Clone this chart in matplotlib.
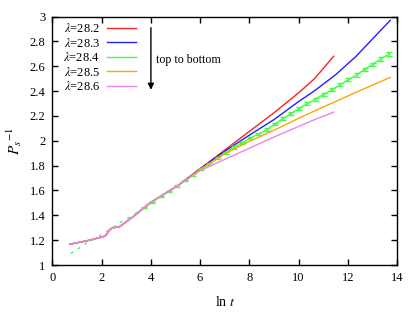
import numpy as np
import matplotlib
matplotlib.use('Agg')
import matplotlib.pyplot as plt

plt.rcParams['font.family'] = ['Liberation Serif', 'DejaVu Serif']
plt.rcParams['mathtext.fontset'] = 'stix'
plt.rcParams['font.size'] = 9

# shared early part of the curves (ln t, 1/P_s)
early_x = [0.7, 1.4, 2.06, 2.15, 2.35, 2.47, 2.74, 3.01, 3.35, 3.96, 5.1]
early_y = [1.167, 1.195, 1.228, 1.235, 1.29, 1.30, 1.31, 1.35, 1.40, 1.50, 1.64]

red_x = early_x + [6.0, 7.0, 8.0, 9.0, 10.0, 10.65, 11.43]
red_y = early_y + [1.775, 1.925, 2.075, 2.225, 2.385, 2.50, 2.68]

blue_x = early_x + [6.0, 7.0, 8.0, 9.0, 10.0, 10.6, 11.5, 12.34, 13.73]
blue_y = early_y + [1.775, 1.915, 2.045, 2.17, 2.315, 2.395, 2.53, 2.68, 2.97]

orange_x = early_x + [6.0, 7.0, 8.0, 9.0, 10.0, 10.6, 12.34, 13.73]
orange_y = early_y + [1.77, 1.895, 1.995, 2.085, 2.18, 2.235, 2.39, 2.51]

pink_x = early_x + [6.0, 7.0, 8.0, 9.0, 10.0, 10.65, 11.43]
pink_y = early_y + [1.76, 1.85, 1.94, 2.03, 2.115, 2.17, 2.23]

green_x = [0.74, 1.07, 1.40, 1.73, 2.07, 2.40, 2.73, 3.06, 3.39, 3.73,
           4.06, 4.39, 4.72, 5.05, 5.39, 5.72, 6.05, 6.38, 6.71, 7.05,
           7.38, 7.71, 8.04, 8.37, 8.71, 9.04, 9.37, 9.70, 10.03, 10.36,
           10.70, 11.03, 11.36, 11.69, 12.02, 12.36, 12.69, 13.02, 13.35, 13.69]
green_y = [1.094, 1.134, 1.18, 1.21, 1.255, 1.295, 1.34, 1.376, 1.416, 1.46,
           1.505, 1.55, 1.59, 1.635, 1.68, 1.725, 1.77, 1.815, 1.86, 1.905,
           1.945, 1.985, 2.02, 2.055, 2.09, 2.135, 2.18, 2.22, 2.26, 2.30,
           2.335, 2.375, 2.41, 2.45, 2.49, 2.53, 2.575, 2.615, 2.66, 2.70]
green_err = [0.003, 0.003, 0.003, 0.003, 0.003, 0.004, 0.004, 0.004, 0.004, 0.005,
             0.005, 0.006, 0.006, 0.006, 0.007, 0.007, 0.007, 0.008, 0.008, 0.008,
             0.009, 0.009, 0.009, 0.010, 0.010, 0.010, 0.011, 0.011, 0.011, 0.012,
             0.012, 0.012, 0.013, 0.013, 0.013, 0.014, 0.014, 0.014, 0.015, 0.015]

labels = [r'$\lambda$=28.2', r'$\lambda$=28.3', r'$\lambda$=28.4', r'$\lambda$=28.5', r'$\lambda$=28.6']
colors = ['#ff2020', '#2020ff', '#40ff40', '#ffa500', '#ee82ee']

fig = plt.figure(figsize=(4.15, 3.12), dpi=100)
ax = fig.add_axes([0.1265, 0.1506, 0.830, 0.7965])

ax.plot(red_x, red_y, color=colors[0], lw=1, label=labels[0])
ax.plot(blue_x, blue_y, color=colors[1], lw=1, label=labels[1])

gx = np.array(green_x)
gy = np.array(green_y)
split = 9
ax.plot(gx[:split], gy[:split], color=colors[2], lw=1, linestyle=(0, (2, 4)))
ax.plot(gx[split - 1:], gy[split - 1:], color=colors[2], lw=1, label=labels[2])
ax.errorbar(gx[split:], gy[split:], yerr=green_err[split:], fmt='none',
            ecolor=colors[2], elinewidth=1, capsize=2, capthick=1)

ax.plot(orange_x, orange_y, color=colors[3], lw=1, label=labels[3])
ax.plot(pink_x, pink_y, color=colors[4], lw=1, label=labels[4])

# arrow and note
ax.annotate('', xy=(4.0, 2.41), xytext=(4.0, 2.91),
            arrowprops=dict(arrowstyle='-|>', color='black', lw=1,
                            mutation_scale=9, shrinkA=0, shrinkB=0))
ax.text(4.22, 2.65, 'top to bottom', ha='left', va='center', fontsize=8.6)

ax.set_xlim(0, 14)
ax.set_ylim(1, 3)
ax.set_xticks(np.arange(0, 15, 2))
ax.set_yticks([1, 1.2, 1.4, 1.6, 1.8, 2, 2.2, 2.4, 2.6, 2.8, 3])
ax.set_yticklabels(['1', '1.2', '1.4', '1.6', '1.8', '2', '2.2', '2.4', '2.6', '2.8', '3'])
ax.tick_params(direction='in', top=True, right=True, length=4, width=1, labelsize=9, pad=5)
for s in ax.spines.values():
    s.set_linewidth(1)

ax.set_xlabel(r'ln $t$', fontsize=10, labelpad=8)
ax.set_ylabel(r'$P_s{}^{-1}$', fontsize=11, labelpad=4)

ax.legend(loc='upper left', bbox_to_anchor=(0.015, 1.0), frameon=False,
          markerfirst=False, fontsize=9, handlelength=2.3, labelspacing=0.12,
          borderaxespad=0.15, borderpad=0.3, handletextpad=0.6)

fig.savefig('out.png', dpi=100)
